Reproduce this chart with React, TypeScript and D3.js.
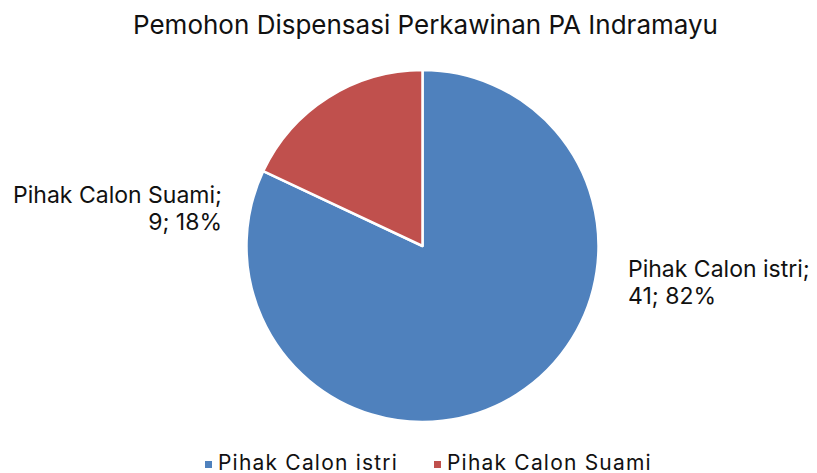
import { useEffect, useRef } from 'react'
import * as d3 from 'd3'

const categories = ['Pihak Calon istri', 'Pihak Calon Suami']
const values = [41, 9]
const colors = ['#4F81BD', '#C0504D']
const title = 'Pemohon Dispensasi Perkawinan PA Indramayu'

const width = 817
const height = 473
const font = 'Inter, Roboto, sans-serif'

export default function App() {
  const ref = useRef<SVGSVGElement>(null)

  useEffect(() => {
    const svg = d3.select(ref.current)
    svg.selectAll('*').remove()

    const cx = 422.5
    const cy = 246
    const radius = 176

    svg.append('rect').attr('width', width).attr('height', height).attr('fill', '#fff')

    svg.append('text')
      .attr('x', cx + 3).attr('y', 34)
      .attr('text-anchor', 'middle')
      .style('font-family', font)
      .style('font-size', '26px')
      .attr('fill', '#111')
      .text(title)

    const data = categories.map((c, i) => ({ label: c, value: values[i], color: colors[i] }))
    const total = d3.sum(values)

    const arcs = d3.pie<{ label: string; value: number; color: string }>()
      .sort(null)
      .value(d => d.value)(data)

    const arc = d3.arc<d3.PieArcDatum<any>>().innerRadius(0).outerRadius(radius)

    const root = svg.append('g').attr('transform', `translate(${cx},${cy})`)
    root.selectAll('path')
      .data(arcs)
      .enter()
      .append('path')
      .attr('d', arc)
      .attr('fill', d => d.data.color)
      .attr('stroke', '#fff')
      .attr('stroke-width', 2.5)
      .attr('stroke-linejoin', 'round')

    // data labels (absolute page positions): right side left-aligned, left side right-aligned
    const labelPos = [
      { x: 628, y: 277, anchor: 'start' },
      { x: 222, y: 203, anchor: 'end' },
    ]
    arcs.forEach((d, i) => {
      const p = labelPos[i]
      const pct = Math.round((d.data.value / total) * 100)
      const t = svg.append('text')
        .attr('text-anchor', p.anchor)
        .style('font-family', font)
        .style('font-size', '23px')
        .attr('fill', '#111')
      t.append('tspan').attr('x', p.x).attr('y', p.y).text(`${d.data.label};`)
      t.append('tspan').attr('x', p.x).attr('y', p.y + 26.5).text(`${d.data.value}; ${pct}%`)
    })

    // legend
    const legendX = [205, 434]
    const legend = svg.append('g')
    data.forEach((d, i) => {
      legend.append('rect')
        .attr('x', legendX[i]).attr('y', 461)
        .attr('width', 7).attr('height', 7)
        .attr('fill', d.color)
      legend.append('text')
        .attr('x', legendX[i] + 13).attr('y', 470)
        .style('font-family', font)
        .style('font-size', '21px')
        .style('letter-spacing', '1.2px')
        .attr('fill', '#111')
        .text(d.label)
    })
  }, [])

  return <svg ref={ref} width={width} height={height} style={{ display: 'block', position: 'absolute', left: 0, top: 0 }} />
}
